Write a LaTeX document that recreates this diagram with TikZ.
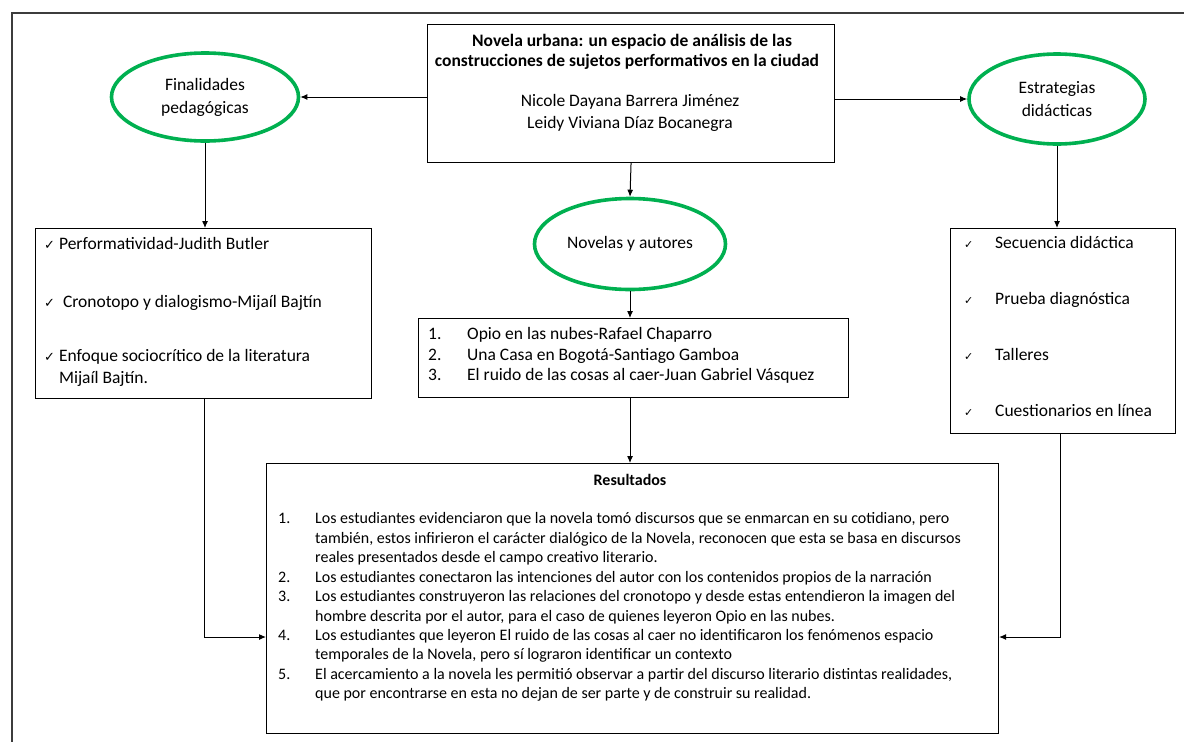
\documentclass[tikz,border=0pt]{standalone}
\usepackage{fontspec}
\setmainfont{Carlito}
\newfontfamily\symfont{DejaVu Sans}
\usetikzlibrary{arrows.meta,shapes.geometric}
\definecolor{ringgreen}{RGB}{0,176,80}
\definecolor{framegray}{RGB}{60,60,60}
\newcommand{\ckbig}{{\symfont\fontsize{13}{13}\selectfont ✓}}
\newcommand{\cksmall}{{\symfont\fontsize{11}{11}\selectfont ✓}}

\begin{document}
\begin{tikzpicture}[x=1pt,y=-1pt,
  box/.style={draw=black, line width=1.1pt, rectangle, inner sep=0pt, anchor=north west},
  ring/.style={draw=ringgreen, line width=3.6pt, ellipse, inner sep=0pt, align=center,
               font=\fontsize{17.5}{23}\selectfont},
  txt/.style={inner sep=0pt, font=\fontsize{17.5}{22}\selectfont},
  bold/.style={inner sep=0pt, font=\fontsize{17.5}{22}\selectfont\bfseries},
  arr/.style={draw=black, line width=1pt, -{Latex[length=7pt,width=6pt]}}
]
\useasboundingbox (0,0) rectangle (1184,742);
\fill[white] (0,0) rectangle (1184,742);
\draw[framegray, line width=1.2pt] (1184,13) -- (12,13) -- (12,742);

% central title box
\node[box, minimum width=407pt, minimum height=138pt] (title) at (427,24) {};
\node[bold, anchor=mid] (t1) at (632,44) {Novela urbana: un espacio de análisis de las};
\node[bold, anchor=mid] (t2) at (627,64) {construcciones de sujetos performativos en la ciudad};
\node[txt, anchor=mid] (a1) at (630,104) {Nicole Dayana Barrera Jiménez};
\node[txt, anchor=mid] (a2) at (630,126) {Leidy Viviana Díaz Bocanegra};

% the three ovals
\node[ring, minimum width=187pt, minimum height=88pt] (fin) at (205,97) {Finalidades\\pedagógicas};
\node[ring, minimum width=176pt, minimum height=90pt] (est) at (1057,99) {Estrategias\\didácticas};
\node[ring, minimum width=191pt, minimum height=91pt] (nov) at (630,244) {Novelas y autores};

% left list
\node[box, minimum width=336pt, minimum height=170pt] (lbox) at (35,228) {};
\node[txt, anchor=mid west] (l1) at (44,247) {\ckbig\ Performatividad-Judith Butler};
\node[txt, anchor=mid west] (l2) at (44,305) {\ckbig\ \ Cronotopo y dialogismo-Mijaíl Bajtín};
\node[txt, anchor=mid west] (l3) at (44,359) {\ckbig\ Enfoque sociocrítico de la literatura};
\node[txt, anchor=mid west] (l4) at (44,381) {\phantom{\ckbig\ }Mijaíl Bajtín.};

% novels list
\node[box, minimum width=430pt, minimum height=79pt] (list) at (418,318) {};
\node[txt, anchor=north west, font=\fontsize{17.5}{20.5}\selectfont] (novs) at (428,325.2) {\begin{tabular}{@{}p{39pt}@{}l@{}}
1. & Opio en las nubes-Rafael Chaparro\\
2. & Una Casa en Bogotá-Santiago Gamboa\\
3. & El ruido de las cosas al caer-Juan Gabriel Vásquez
\end{tabular}};

% right list
\node[box, minimum width=225pt, minimum height=205pt] (rbox) at (950,228) {};
\node[txt, anchor=mid west] (r1) at (964,246) {\makebox[31pt][l]{\cksmall}Secuencia didáctica};
\node[txt, anchor=mid west] (r2) at (964,302) {\makebox[31pt][l]{\cksmall}Prueba diagnóstica};
\node[txt, anchor=mid west] (r3) at (964,358) {\makebox[31pt][l]{\cksmall}Talleres};
\node[txt, anchor=mid west] (r4) at (964,414) {\makebox[31pt][l]{\cksmall}Cuestionarios en línea};

% results
\node[box, minimum width=732pt, minimum height=270pt] (res) at (266,463) {};
\node[bold, anchor=mid, font=\fontsize{16}{19.5}\selectfont\bfseries] (rt) at (630,483) {Resultados};
\node[txt, anchor=north west, font=\fontsize{16}{19.44}\selectfont] (rl) at (278,510) {\begin{tabular}{@{}p{37pt}@{}l@{}}
1. & Los estudiantes evidenciaron que la novela tomó discursos que se enmarcan en su cotidiano, pero\\
   & también, estos infirieron el carácter dialógico de la Novela, reconocen que esta se basa en discursos\\
   & reales presentados desde el campo creativo literario.\\
2. & Los estudiantes conectaron las intenciones del autor con los contenidos propios de la narración\\
3. & Los estudiantes construyeron las relaciones del cronotopo y desde estas entendieron la imagen del\\
   & hombre descrita por el autor, para el caso de quienes leyeron Opio en las nubes.\\
4. & Los estudiantes que leyeron El ruido de las cosas al caer no identificaron los fenómenos espacio\\
   & temporales de la Novela, pero sí lograron identificar un contexto\\
5. & El acercamiento a la novela les permitió observar a partir del discurso literario distintas realidades,\\
   & que por encontrarse en esta no dejan de ser parte y de construir su realidad.
\end{tabular}};

% connectors
\coordinate (jL) at (204,637);
\coordinate (jR) at (1060,637);
\draw[arr] (title.west |- fin.east) -- (fin.east);
\draw[arr] (title.east |- est.west) -- (est.west);
\draw[arr] (title.south) -- (nov.north);
\draw[arr] (fin.south) -- (fin.south |- lbox.north);
\draw[arr] (est.south) -- (est.south |- rbox.north);
\draw[arr] (nov.south) -- (nov.south |- list.north);
\draw[arr] (nov.south |- list.south) -- (nov.south |- res.north);
\draw[arr] (lbox.south -| jL) -- (jL) -- (jL -| res.west);
\draw[arr] (rbox.south -| jR) -- (jR) -- (jR -| res.east);
\end{tikzpicture}
\end{document}
